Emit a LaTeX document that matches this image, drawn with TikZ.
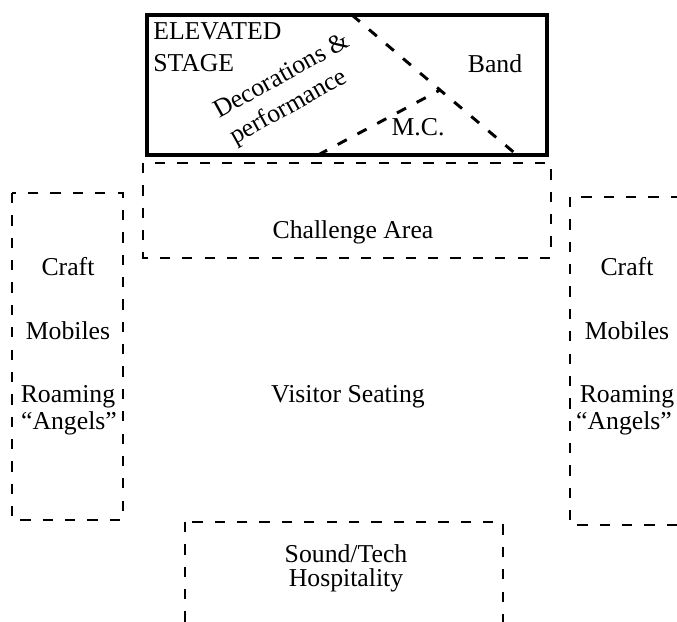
\documentclass[tikz,border=0pt]{standalone}
\usepackage{fontspec}
\setmainfont{Liberation Serif}
\tikzset{
	zone/.style={line width=2.1pt,dash pattern=on 7.3pt off 8.6pt},
	stagewall/.style={line width=3.4pt},
	lbl/.style={font=\fontsize{18.3}{22}\selectfont,inner sep=0pt,anchor=base},
}
\begin{document}
\begin{tikzpicture}[x=0.025cm,y=-0.025cm]
	\useasboundingbox (0,0) rectangle (677,621);
	\clip (0,0) rectangle (677,621);
	
	% stage
	\draw[stagewall] (147,15) rectangle (547,155);
	\coordinate (mcpoint) at (440,90);
	\draw[zone] (352,15) -- (mcpoint) -- (517,155);
	\draw[zone] (318,155) -- (mcpoint);
	\node[lbl,anchor=base west] (elevated) at (153,39) {ELEVATED};
	\node[lbl,anchor=base west] (stagelbl) at (153,71) {STAGE};
	\node[lbl,rotate=29] (deco) at (285,82) {Decorations \&};
	\node[lbl,rotate=29] (perf) at (292,113) {performance};
	\node[lbl] (band) at (495,72) {Band};
	\node[lbl] (mc) at (418,135) {M.C.};
	
	% zones
	\draw[zone] (143,163) rectangle (551,258);
	\node[lbl] (challenge) at (353,238) {Challenge Area};
	\node[lbl] (seating) at (348,402) {Visitor Seating};
	\draw[zone] (12,193) rectangle (123,520);
	\draw[zone] (570,197) rectangle (700,525);
	\foreach \cx/\ax/\sd in {68/69/left,627/624/right}{
		\node[lbl] (craft\sd) at (\cx,275) {Craft};
		\node[lbl] (mobiles\sd) at (\cx,339) {Mobiles};
		\node[lbl] (roaming\sd) at (\cx,402) {Roaming};
		\node[lbl] (angels\sd) at (\ax,429) {“Angels”};
	}
	\draw[zone] (185,522) rectangle (503,660);
	\node[lbl] (sound) at (346,562) {Sound/Tech};
	\node[lbl] (hosp) at (346,586) {Hospitality};
\end{tikzpicture}
\end{document}
